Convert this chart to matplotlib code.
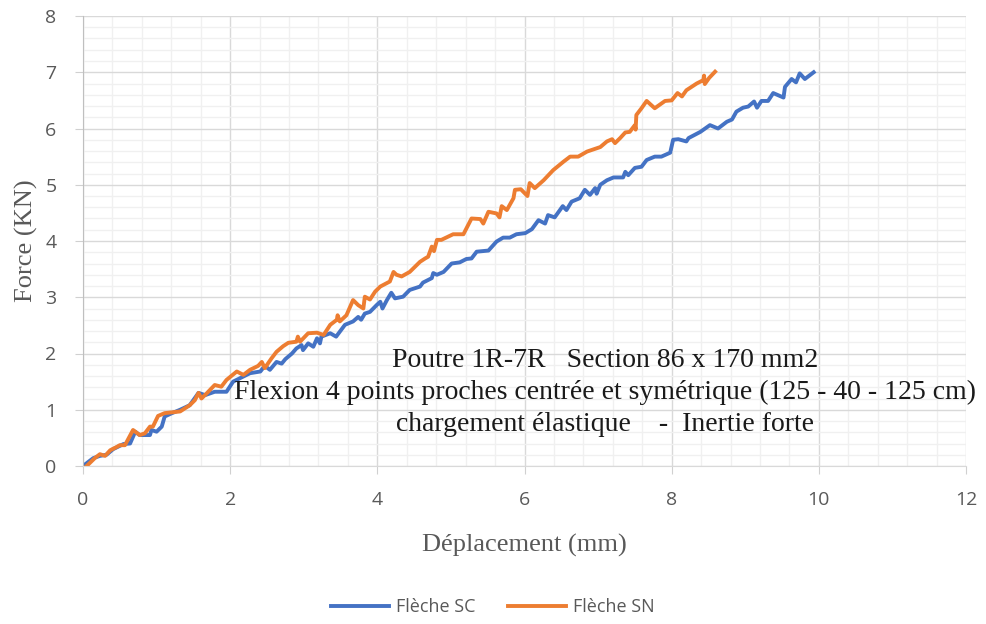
import matplotlib
matplotlib.use("Agg")
import matplotlib.pyplot as plt
from matplotlib.ticker import MultipleLocator

sc_x = [0.00, 0.14, 0.23, 0.32, 0.41, 0.55, 0.64, 0.71, 0.77, 0.91, 0.93, 1.00, 1.07, 1.11, 1.21, 1.32,
        1.45, 1.57, 1.66, 1.79, 1.95, 2.04, 2.27, 2.41, 2.47, 2.54, 2.63, 2.70, 2.75, 2.84, 2.90, 2.97,
        2.99, 3.06, 3.13, 3.18, 3.22, 3.24, 3.36, 3.44, 3.56, 3.67, 3.74, 3.78, 3.83, 3.90, 3.99, 4.04,
        4.07, 4.13, 4.19, 4.24, 4.35, 4.44, 4.58, 4.62, 4.74, 4.76, 4.81, 4.90, 5.01, 5.12, 5.21, 5.28,
        5.35, 5.51, 5.62, 5.71, 5.80, 5.89, 6.01, 6.10, 6.19, 6.28, 6.32, 6.41, 6.52, 6.57, 6.64, 6.75,
        6.82, 6.89, 6.96, 6.98, 7.03, 7.12, 7.21, 7.34, 7.37, 7.41, 7.50, 7.59, 7.66, 7.77, 7.86, 7.98,
        8.02, 8.09, 8.20, 8.23, 8.39, 8.52, 8.63, 8.75, 8.82, 8.88, 8.97, 9.04, 9.12, 9.16, 9.22, 9.31,
        9.38, 9.52, 9.54, 9.63, 9.69, 9.74, 9.81, 9.93]
sc_y = [0.00, 0.14, 0.18, 0.20, 0.30, 0.39, 0.40, 0.61, 0.55, 0.55, 0.64, 0.61, 0.70, 0.88, 0.94, 1.00,
        1.08, 1.30, 1.26, 1.32, 1.32, 1.50, 1.65, 1.68, 1.78, 1.71, 1.85, 1.82, 1.90, 2.00, 2.09, 2.15,
        2.06, 2.18, 2.12, 2.27, 2.18, 2.30, 2.36, 2.30, 2.51, 2.57, 2.65, 2.60, 2.71, 2.74, 2.86, 2.92,
        2.80, 2.95, 3.08, 2.98, 3.01, 3.13, 3.19, 3.26, 3.34, 3.43, 3.40, 3.45, 3.60, 3.62, 3.68, 3.69,
        3.81, 3.83, 3.99, 4.06, 4.06, 4.12, 4.14, 4.21, 4.37, 4.31, 4.46, 4.42, 4.62, 4.55, 4.70, 4.76,
        4.91, 4.82, 4.94, 4.84, 5.00, 5.08, 5.13, 5.13, 5.23, 5.17, 5.30, 5.32, 5.44, 5.50, 5.50, 5.57,
        5.80, 5.81, 5.77, 5.83, 5.94, 6.06, 6.00, 6.12, 6.16, 6.30, 6.37, 6.39, 6.48, 6.37, 6.49, 6.49,
        6.63, 6.55, 6.74, 6.88, 6.82, 6.98, 6.88, 7.00]

sn_x = [0.05, 0.16, 0.23, 0.30, 0.37, 0.46, 0.50, 0.57, 0.68, 0.77, 0.84, 0.91, 0.95, 1.02, 1.11, 1.32,
        1.45, 1.52, 1.57, 1.61, 1.68, 1.79, 1.88, 1.95, 2.09, 2.18, 2.27, 2.38, 2.43, 2.47, 2.56, 2.63,
        2.72, 2.79, 2.90, 2.92, 2.95, 3.06, 3.18, 3.27, 3.36, 3.45, 3.46, 3.49, 3.58, 3.67, 3.74, 3.81,
        3.83, 3.90, 3.97, 4.04, 4.17, 4.22, 4.26, 4.33, 4.44, 4.58, 4.65, 4.69, 4.74, 4.77, 4.81, 4.87,
        5.03, 5.17, 5.28, 5.40, 5.44, 5.51, 5.62, 5.66, 5.69, 5.76, 5.85, 5.87, 5.95, 6.04, 6.07, 6.14,
        6.26, 6.39, 6.53, 6.62, 6.73, 6.85, 7.03, 7.12, 7.19, 7.23, 7.30, 7.37, 7.43, 7.50, 7.51, 7.52,
        7.59, 7.66, 7.77, 7.91, 8.00, 8.08, 8.14, 8.20, 8.34, 8.43, 8.44, 8.45, 8.51, 8.59]
sn_y = [0.00, 0.14, 0.21, 0.18, 0.28, 0.34, 0.37, 0.37, 0.64, 0.55, 0.58, 0.70, 0.70, 0.89, 0.94, 0.97,
        1.08, 1.17, 1.30, 1.20, 1.29, 1.44, 1.41, 1.53, 1.68, 1.62, 1.71, 1.78, 1.85, 1.74, 1.91, 2.03,
        2.13, 2.19, 2.21, 2.30, 2.21, 2.36, 2.37, 2.33, 2.51, 2.60, 2.68, 2.57, 2.68, 2.95, 2.86, 2.80,
        3.01, 2.96, 3.10, 3.19, 3.28, 3.45, 3.40, 3.37, 3.45, 3.63, 3.69, 3.72, 3.90, 3.82, 4.02, 4.02,
        4.12, 4.12, 4.40, 4.39, 4.31, 4.52, 4.49, 4.42, 4.62, 4.55, 4.76, 4.91, 4.92, 4.80, 5.03, 4.94,
        5.08, 5.26, 5.41, 5.50, 5.50, 5.59, 5.67, 5.77, 5.81, 5.74, 5.83, 5.93, 5.94, 6.06, 5.98, 6.24,
        6.36, 6.49, 6.36, 6.49, 6.50, 6.63, 6.57, 6.68, 6.80, 6.86, 6.94, 6.79, 6.90, 7.01]

series_names = ["Flèche SC", "Flèche SN"]
x_label = "Déplacement (mm)"
y_label = "Force (KN)"
annotation_lines = ["Poutre 1R-7R   Section 86 x 170 mm2",
                    "Flexion 4 points proches centrée et symétrique (125 - 40 - 125 cm)",
                    "chargement élastique    -  Inertie forte"]

fig = plt.figure(figsize=(9.86, 6.24), dpi=100)
ax = fig.add_axes([83/986, 158/624, (966-83)/986, (466-16)/624])

ax.plot(sc_x, sc_y, color="#4472C4", lw=2.8, label=series_names[0], solid_joinstyle="round")
ax.plot(sn_x, sn_y, color="#ED7D31", lw=2.8, label=series_names[1], solid_joinstyle="round")

ax.set_xlim(0, 12)
ax.set_ylim(0, 8)
ax.xaxis.set_major_locator(MultipleLocator(2))
ax.xaxis.set_minor_locator(MultipleLocator(0.4))
ax.yaxis.set_major_locator(MultipleLocator(1))
ax.yaxis.set_minor_locator(MultipleLocator(0.2))
ax.grid(which="major", color="#d9d9d9", lw=1.0)
ax.grid(which="minor", color="#f0f0f0", lw=1.0)
ax.set_axisbelow(True)
for s in ["top", "right"]:
    ax.spines[s].set_visible(False)
ax.spines["left"].set_color("#bfbfbf")
ax.spines["bottom"].set_color("#d9d9d9")
ax.tick_params(which="major", length=6, color="#d0d0d0", labelsize=14, labelcolor="#595959")
ax.tick_params(axis="y", pad=13)
ax.tick_params(axis="x", pad=12)
ax.tick_params(which="minor", length=0)
for lab in ax.get_xticklabels() + ax.get_yticklabels():
    lab.set_family("Open Sans")

ax.set_xlabel(x_label, family="Liberation Serif", fontsize=19, color="#595959", labelpad=18)
ax.set_ylabel(y_label, family="Liberation Serif", fontsize=19, color="#595959", labelpad=5)

baselines = [367, 399, 431]
for t, yp in zip(annotation_lines, baselines):
    fig.text(605/986, 1 - yp/624, t, family="Liberation Serif", fontsize=20, color="#1a1a1a",
             ha="center", va="baseline")

leg = fig.legend(loc="center", bbox_to_anchor=(493/986, 1 - 607/624), ncol=2, frameon=False,
                 prop={"family": "Open Sans", "size": 13}, handlelength=3.2, columnspacing=1.8,
                 handletextpad=0.4)
for t in leg.get_texts():
    t.set_color("#595959")

fig.savefig("out.png", dpi=100)
